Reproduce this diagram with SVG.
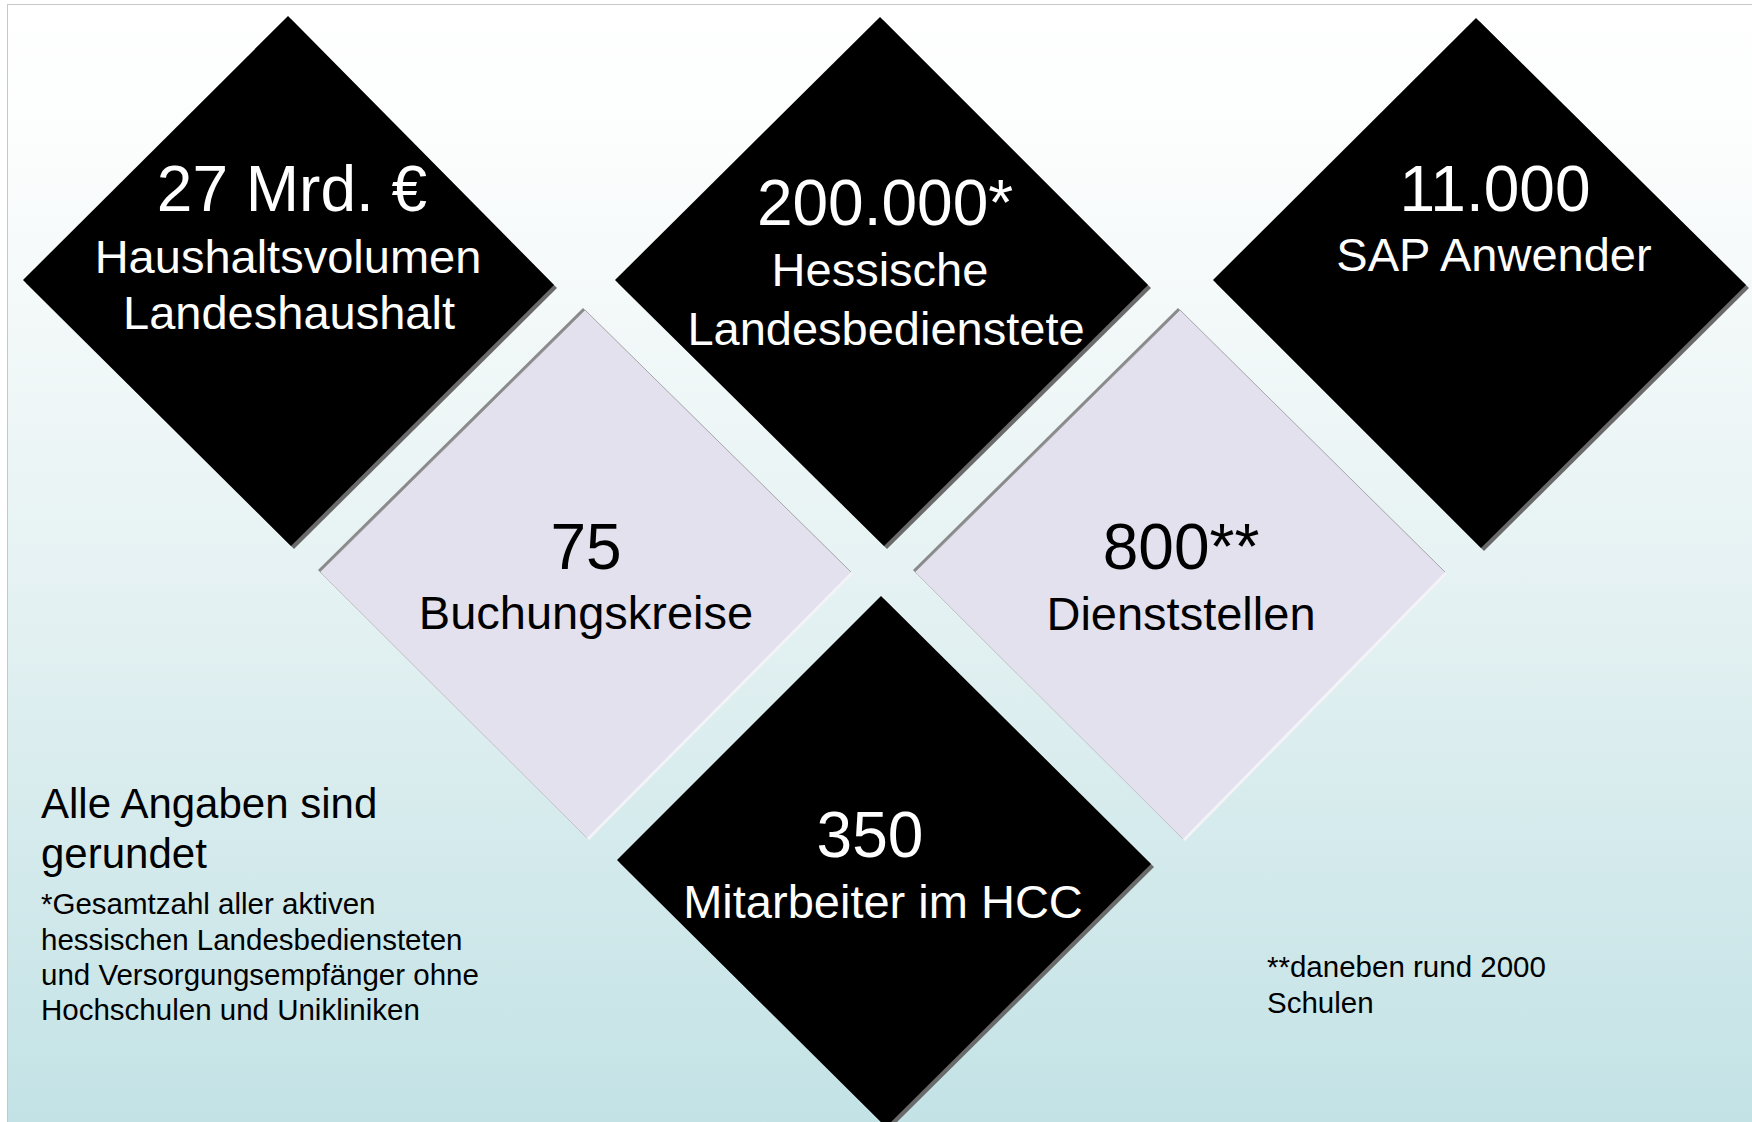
<svg xmlns="http://www.w3.org/2000/svg" width="1752" height="1122" viewBox="0 0 1752 1122">
  <defs>
    <linearGradient id="bg" x1="0" y1="0" x2="0" y2="1">
      <stop offset="0" stop-color="#ffffff"/>
      <stop offset="0.12" stop-color="#fcfdfd"/>
      <stop offset="0.5" stop-color="#e6f2f3"/>
      <stop offset="1" stop-color="#c2e2e5"/>
    </linearGradient>
  </defs>
  <style>
    text { font-family: "Liberation Sans", Arial, sans-serif; }
    .blk { fill: #000000; }
    .bshadow { fill: #6a6a6a; }
    .lav { fill: #e3e1ee; }
    .edge { fill: none; stroke: #9a9a9a; stroke-width: 0.8; }
    .lshadow { fill: #8a8a8a; }
    .lhigh { fill: #f3f3f8; }
    .num { font-size: 64px; text-anchor: middle; }
    .lbl { font-size: 47px; text-anchor: middle; }
    .w { fill: #ffffff; }
    .k { fill: #000000; }
    .note { font-size: 29.5px; fill: #000000; }
    .head { font-size: 42px; fill: #000000; }
  </style>

  <rect x="0" y="0" width="1752" height="1122" fill="#ffffff"/>
  <rect x="7.5" y="4.5" width="1760" height="1130" fill="url(#bg)" stroke="#c8c8c8" stroke-width="1"/>

  <g id="node-haushalt">
    <polygon class="bshadow" points="291,19 557,288 294,549 26,283"/>
    <polygon class="blk" points="288,16 554,285 291,546 23,280"/>
    <text class="num w" x="292" y="211">27 Mrd. €</text>
    <text class="lbl w" x="288" y="273">Haushaltsvolumen</text>
    <text class="lbl w" x="289" y="329">Landeshaushalt</text>
  </g>

  <g id="node-bedienstete">
    <polygon class="bshadow" points="883,20 1151,288 887,549 618,283"/>
    <polygon class="blk" points="880,17 1148,285 884,546 615,280"/>
    <text class="num w" x="885" y="225">200.000*</text>
    <text class="lbl w" x="880" y="286">Hessische</text>
    <text class="lbl w" x="886" y="345">Landesbedienstete</text>
  </g>

  <g id="node-sap">
    <polygon class="bshadow" points="1479,21 1749,288 1484,551 1216,283"/>
    <polygon class="blk" points="1476,18 1746,285 1481,548 1213,280"/>
    <text class="num w" x="1495" y="211">11.000</text>
    <text class="lbl w" x="1494" y="271">SAP Anwender</text>
  </g>

  <g id="node-buchungskreise">
    <polygon class="lshadow" points="583,308 849,570 585,836 318,570"/>
    <polygon class="lhigh" points="587,312 853,574 589,840 322,574"/>
    <polygon class="lav" points="585,310 851,572 587,838 320,572"/>
    <polyline class="edge" points="320,572 585,310 851,572"/>
    <polyline class="edge" points="320,572 587,838" stroke-opacity="0.5"/>
    <text class="num k" x="586" y="569">75</text>
    <text class="lbl k" x="586" y="629">Buchungskreise</text>
  </g>

  <g id="node-dienststellen">
    <polygon class="lshadow" points="1178,308 1443,570 1181,837 913,570"/>
    <polygon class="lhigh" points="1182,312 1447,574 1185,841 917,574"/>
    <polygon class="lav" points="1180,310 1445,572 1183,839 915,572"/>
    <polyline class="edge" points="915,572 1180,310 1445,572"/>
    <polyline class="edge" points="915,572 1183,839" stroke-opacity="0.5"/>
    <text class="num k" x="1181" y="569">800**</text>
    <text class="lbl k" x="1181" y="630">Dienststellen</text>
  </g>

  <g id="node-hcc">
    <polygon class="bshadow" points="884,599 1154,867 889,1130 620,863"/>
    <polygon class="blk" points="881,596 1151,864 886,1127 617,860"/>
    <text class="num w" x="870" y="857">350</text>
    <text class="lbl w" x="883" y="918">Mitarbeiter im HCC</text>
  </g>

  <g id="note-left">
    <text class="head" x="41" y="818">Alle Angaben sind</text>
    <text class="head" x="41" y="868">gerundet</text>
    <text class="note" x="41" y="914">*Gesamtzahl aller aktiven</text>
    <text class="note" x="41" y="950">hessischen Landesbediensteten</text>
    <text class="note" x="41" y="985">und Versorgungsempfänger ohne</text>
    <text class="note" x="41" y="1020">Hochschulen und Unikliniken</text>
  </g>

  <g id="note-right">
    <text class="note" x="1267" y="977">**daneben rund 2000</text>
    <text class="note" x="1267" y="1013">Schulen</text>
  </g>
</svg>
